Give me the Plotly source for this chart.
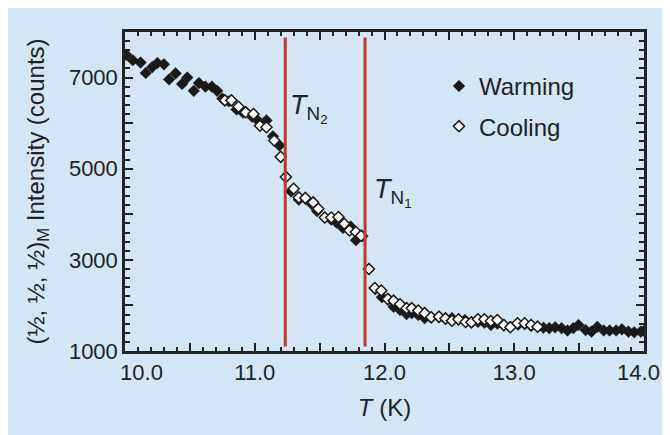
import plotly.graph_objects as go

# ---------------- data ----------------
warm_T = [10.01, 10.06, 10.12, 10.16, 10.21, 10.25, 10.30, 10.34, 10.39, 10.44,
          10.48, 10.53, 10.57, 10.62, 10.67, 10.71, 10.75, 10.80, 10.86, 10.91,
          10.98, 11.03, 11.09, 11.14, 11.19, 11.28, 11.34, 11.39, 11.44, 11.48,
          11.54, 11.59, 11.63, 11.68, 11.74, 11.78, 11.83, 11.88, 11.93, 11.98,
          12.03, 12.07, 12.12, 12.17, 12.21, 12.26, 12.31, 12.36, 12.42, 12.47,
          12.52, 12.57, 12.62, 12.67, 12.72, 12.77, 12.82, 12.87, 12.92, 12.97,
          13.03, 13.08, 13.13, 13.18, 13.225, 13.27, 13.315, 13.365, 13.41, 13.455,
          13.495, 13.55, 13.595, 13.64, 13.69, 13.735, 13.785, 13.83, 13.88, 13.925,
          13.975, 14.0]
warm_I = [7500, 7380, 7330, 7100, 7230, 7320, 7290, 6960, 7090, 6860,
          7000, 6710, 6880, 6800, 6800, 6710, 6540, 6480, 6300, 6230,
          6140, 6040, 6060, 5710, 5510, 4500, 4320, 4340, 4220, 4070,
          3930, 3880, 3820, 3700, 3730, 3430, 3520, 2800, 2360, 2180,
          2140, 1970, 1900, 1810, 1830, 1790, 1720, 1730, 1740, 1700,
          1720, 1690, 1680, 1620, 1640, 1620, 1570, 1600, 1560, 1530,
          1580, 1590, 1550, 1530, 1510, 1500, 1520, 1500, 1450, 1500,
          1570, 1460, 1425, 1530, 1450, 1450, 1450, 1475, 1425, 1410,
          1425, 1440]

cool_T = [10.77, 10.82, 10.875, 10.93, 10.99, 11.04, 11.09, 11.15, 11.20, 11.24,
          11.30, 11.34, 11.39, 11.45, 11.49, 11.54, 11.59, 11.645, 11.69, 11.73,
          11.78, 11.82, 11.88, 11.925, 11.975, 12.025, 12.07, 12.12, 12.17, 12.21,
          12.26, 12.31, 12.36, 12.42, 12.47, 12.52, 12.57, 12.625, 12.67, 12.72,
          12.77, 12.82, 12.87, 12.92, 12.97, 13.025, 13.08, 13.13, 13.18]
cool_I = [6500, 6500, 6360, 6240, 6200, 5945, 5910, 5620, 5260, 4820,
          4560, 4370, 4360, 4260, 4120, 3930, 3930, 3940, 3790, 3645,
          3610, 3530, 2800, 2380, 2325, 2140, 2105, 2026, 1940, 1940,
          1886, 1830, 1740, 1754, 1715, 1666, 1697, 1637, 1631, 1697,
          1697, 1659, 1681, 1571, 1521, 1608, 1608, 1571, 1534]

TN2 = 11.235
TN1 = 11.85

x_tickvals = [10.0, 10.5, 11.0, 11.5, 12.0, 12.5, 13.0, 13.5, 14.0]
x_ticktext = ["\u2002\u2002\u200210.0", "", "11.0", "", "12.0", "", "13.0", "", "14.0\u2002"]
y_tickvals = [1000, 2000, 3000, 4000, 5000, 6000, 7000, 8000]
y_ticktext = ["1000", "", "3000", "", "5000", "", "7000", ""]

# ---------------- style ----------------
BLUE = "#d4e6f5"
RED = "#bd3a26"
INK = "#222222"
FONT = "Liberation Sans, Arial, sans-serif"

W, H = 670, 435
OFF = 8  # page body margin offset
PW, PH = 519, 319  # plot area size
ML, MT = 125 - OFF, 32 - OFF
MR, MB = W - ML - PW, H - MT - PH

fig = go.Figure()

fig.add_trace(go.Scatter(
    x=warm_T, y=warm_I, mode="markers", name="Warming", legendgroup="w",
    marker=dict(symbol="diamond", size=9, color="#1a1a1a",
                line=dict(color="#1a1a1a", width=0.5)),
))
fig.add_trace(go.Scatter(
    x=cool_T, y=cool_I, mode="markers", name="Cooling", legendgroup="c",
    marker=dict(symbol="diamond", size=8.5, color="white",
                line=dict(color="#1a1a1a", width=1.5)),
))

# blue panel covering the whole figure
fig.add_shape(type="rect", xref="paper", yref="paper", layer="below",
              x0=-ML / PW, x1=(W - ML) / PW,
              y0=-MB / PH, y1=(PH + MT) / PH,
              fillcolor=BLUE, line=dict(width=0))

for tn in (TN2, TN1):
    fig.add_shape(type="line", xref="x", yref="y", x0=tn, x1=tn, y0=1100, y1=7880,
                  line=dict(color=RED, width=3))

fig.add_annotation(x=TN2, y=5875, xref="x", yref="y", xanchor="left", yanchor="bottom",
                   xshift=3, showarrow=False,
                   text="<i>T</i><sub>N<sub>2</sub></sub>",
                   font=dict(family=FONT, size=27, color=INK))
fig.add_annotation(x=TN1, y=4025, xref="x", yref="y", xanchor="left", yanchor="bottom",
                   xshift=7, showarrow=False,
                   text="<i>T</i><sub>N<sub>1</sub></sub>",
                   font=dict(family=FONT, size=27, color=INK))

axis_common = dict(
    showline=True, linecolor=INK, linewidth=2.5, mirror="ticks",
    ticks="inside", tickcolor=INK, tickwidth=2,
    showgrid=False, zeroline=False, automargin=False,
    tickfont=dict(family=FONT, size=22, color=INK),
)

fig.update_xaxes(
    range=[10.0, 14.0], tickmode="array", tickvals=x_tickvals, ticktext=x_ticktext,
    ticklen=8,
    minor=dict(dtick=0.1, ticks="inside", ticklen=4, tickwidth=2, tickcolor=INK, showgrid=False),
    title=dict(text="<i>T</i> (K)", font=dict(family=FONT, size=24, color=INK), standoff=16),
    **axis_common,
)
fig.update_yaxes(
    range=[1000, 8000], tickmode="array", tickvals=y_tickvals, ticktext=y_ticktext,
    ticklen=8,
    minor=dict(dtick=200, ticks="inside", ticklen=5, tickwidth=2, tickcolor=INK, showgrid=False),
    title=dict(text="(½, ½, ½)<sub>M</sub> Intensity (counts)",
               font=dict(family=FONT, size=24, color=INK), standoff=18),
    **axis_common,
)

fig.update_layout(
    width=W, height=H,
    margin=dict(l=ML, r=MR, t=MT, b=MB),
    paper_bgcolor=BLUE, plot_bgcolor=BLUE,
    showlegend=True,
    legend=dict(x=0.605, y=0.90, xanchor="left", yanchor="top",
                bgcolor="rgba(0,0,0,0)", tracegroupgap=6,
                font=dict(family=FONT, size=24, color=INK)),
)

fig.write_html("out.html")
